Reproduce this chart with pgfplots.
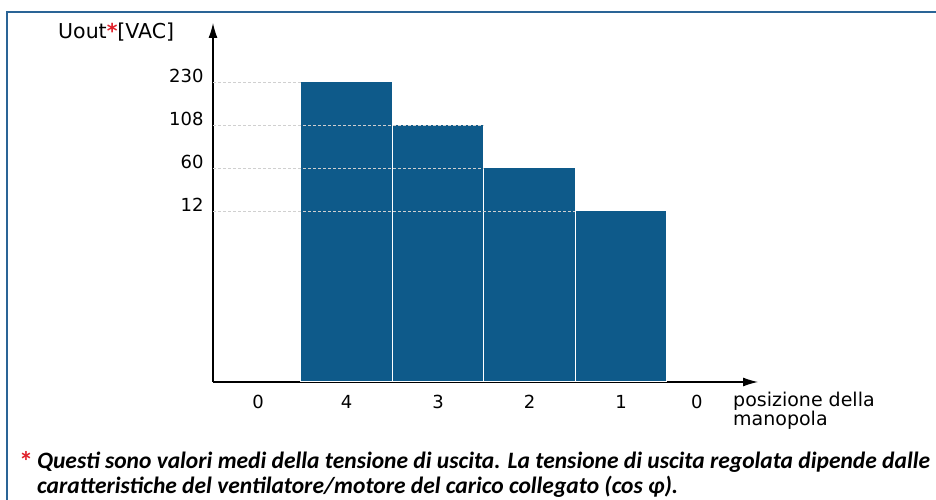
\documentclass[border=0pt]{standalone}
\usepackage{pgfplots}
\pgfplotsset{compat=1.18}
\usetikzlibrary{arrows.meta}
\usepackage{fontspec}
\setmainfont{DejaVu Sans}
\newfontfamily\footfont{Carlito}
\definecolor{barblue}{HTML}{0E5A8A}
\definecolor{framec}{HTML}{2A6496}
\definecolor{gridc}{HTML}{D0D0D0}
\definecolor{starred}{HTML}{E0202A}
\begin{document}
\begin{tikzpicture}
\useasboundingbox (0pt,0pt) rectangle (936pt,500pt);
\draw[framec, line width=1.8pt] (7pt,-20pt) -- (7pt,488pt) -- (960pt,488pt);
\begin{axis}[
  at={(213pt,118pt)}, anchor=south west,
  scale only axis, width=545pt, y=1pt,
  axis lines=left,
  axis line style={line width=1.2pt, -{Latex[length=15pt,width=9pt]}},
  xmin=-0.459, xmax=5.497,
  ymin=0, ymax=397.4,
  enlargelimits=false,
  y coord trafo/.code={\pgfmathparse{#1<=12 ? #1*14.25 : (#1<=60 ? 171+(#1-12)*0.895833 : (#1<=108 ? 214+(#1-60)*0.895833 : 257+(#1-108)*0.352459))}},
  ytick={12,60,108,230}, yticklabels={12,60,108,230},
  xtick={0.033,1,2,3,4,4.83}, xticklabels={0,4,3,2,1,0},
  major tick length=0pt,
  /pgf/number format/assume math mode=true,
  yticklabel style={font=\fontsize{18}{18}\selectfont, yshift=6pt, xshift=-6pt},
  xticklabel style={font=\fontsize{18}{18}\selectfont, yshift=-10pt},
  clip=false,
]
\addplot[ybar, bar width=1, bar shift=0, fill=barblue, draw=white, line width=1pt]
  coordinates {(1,230) (2,108) (3,60) (4,12)};
\addplot[gridc, line width=0.9pt, dash pattern=on 3pt off 2pt] coordinates {(-0.459,230) (0.5,230)};
\addplot[gridc, line width=0.9pt, dash pattern=on 3pt off 2pt] coordinates {(-0.459,108) (2.5,108)};
\addplot[gridc, line width=0.9pt, dash pattern=on 3pt off 2pt] coordinates {(-0.459,60) (2.5,60)};
\addplot[gridc, line width=0.9pt, dash pattern=on 3pt off 2pt] coordinates {(-0.459,12) (3.5,12)};
\end{axis}
\node[anchor=base west, inner sep=0pt, font=\fontsize{20.5}{24}\selectfont] at (58pt,461pt) {Uout{\color{starred}\textbf{*}}[VAC]};
\node[anchor=base west, inner sep=0pt, font=\fontsize{19}{19}\selectfont] at (733pt,93pt) {posizione della};
\node[anchor=base west, inner sep=0pt, font=\fontsize{19}{19}\selectfont] at (733pt,74pt) {manopola};
\node[anchor=base west, inner sep=0pt, font=\footfont\bfseries\fontsize{28}{28}\selectfont, text=starred] at (19pt,28pt) {*};
\node[anchor=base west, inner sep=0pt, font=\footfont\bfseries\itshape\fontsize{23.5}{24}\selectfont] at (37pt,31pt) {Questi sono valori medi della tensione di uscita. La tensione di uscita regolata dipende dalle};
\node[anchor=base west, inner sep=0pt, font=\footfont\bfseries\itshape\fontsize{23.5}{24}\selectfont] at (37pt,6.5pt) {caratteristiche del ventilatore/motore del carico collegato (cos φ).};
\end{tikzpicture}
\end{document}
